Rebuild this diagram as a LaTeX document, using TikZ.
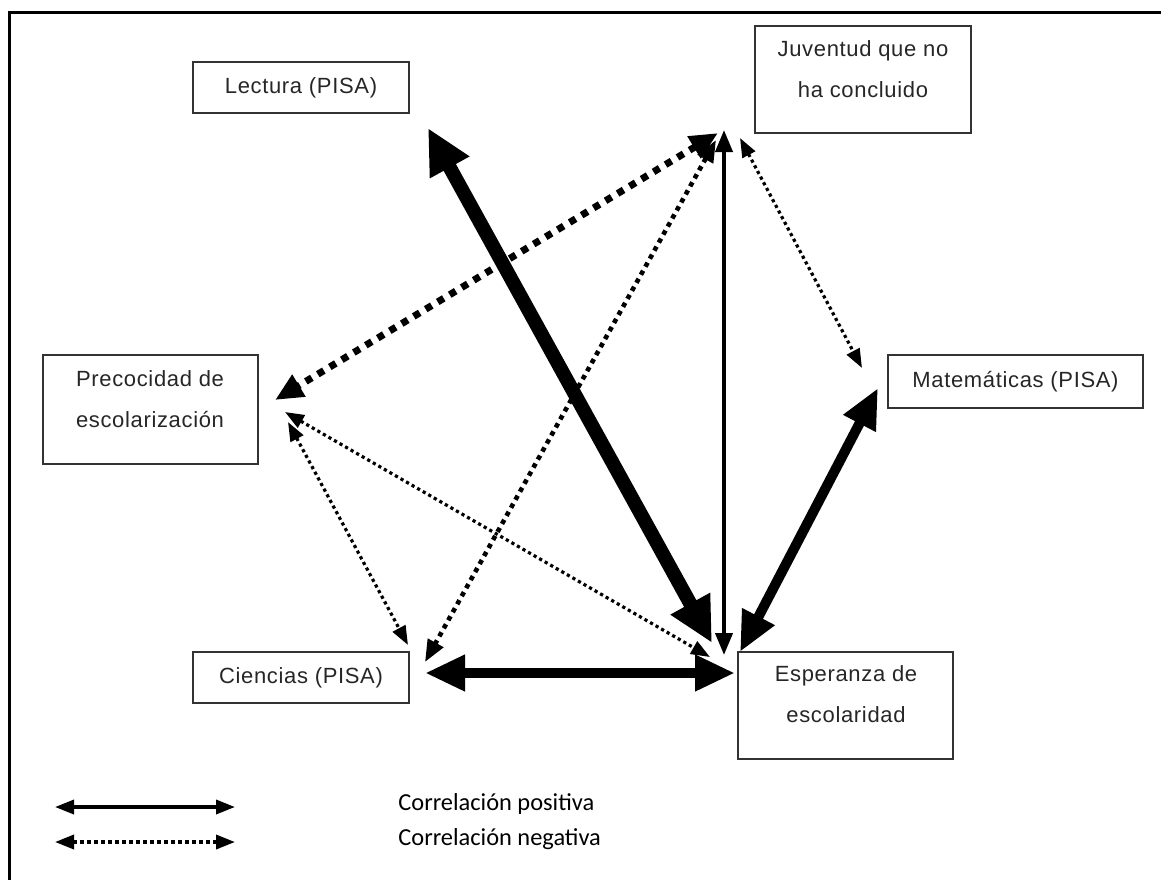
\documentclass[tikz,border=0pt]{standalone}
\usepackage{fontspec}
\setmainfont{Liberation Sans}
\newfontfamily\legendfont{Carlito}
\usetikzlibrary{arrows.meta}
\begin{document}
\begin{tikzpicture}[x=0.5pt,y=-0.5pt,
  box/.style={draw=black!80, line width=0.8pt, inner sep=0pt, outer sep=0pt},
  lbl/.style={font=\fontsize{11}{20.5}\selectfont\addfontfeatures{LetterSpace=3}, align=center, inner sep=0pt, text=black!85},
  legtxt/.style={font=\legendfont\fontsize{12.2}{17.5}\selectfont, anchor=west, inner sep=0pt},
  headXL/.style={arrows={Triangle[length=22.5pt,width=21pt]-Triangle[length=22.5pt,width=21pt]}},
  headL/.style={arrows={Triangle[length=20pt,width=17pt]-Triangle[length=20pt,width=17pt]}},
  headM/.style={arrows={Triangle[length=14pt,width=12pt]-Triangle[length=14pt,width=12pt]}},
  headS/.style={arrows={Triangle[length=11pt,width=8.5pt]-Triangle[length=11pt,width=8.5pt]}},
  headXS/.style={arrows={Triangle[length=9.5pt,width=7pt]-Triangle[length=9.5pt,width=7pt]}},
  solidXL/.style={headXL, line width=7pt},
  solidL/.style={headL, line width=5pt},
  solidS/.style={headS, line width=2pt},
  dashM/.style={headM, line width=3.5pt, dash pattern=on 3.5pt off 3.5pt},
  dotM/.style={headS, line width=2.3pt, dash pattern=on 2.3pt off 2.3pt},
  dotS/.style={headXS, line width=1.6pt, dash pattern=on 1.6pt off 1.6pt},
  legsolid/.style={headXS, line width=1.75pt},
  legdot/.style={headXS, line width=1.75pt, dash pattern=on 1.75pt off 1.75pt}
]
\useasboundingbox (0,0) rectangle (1161,880);
\draw[line width=1.5pt] (9,880) -- (9,12) -- (1161,12);

% boxes
\node[box, minimum width=108pt, minimum height=25.5pt] (lect) at (301,87.5) {};
\node[box, minimum width=108pt, minimum height=53.5pt] (juv) at (863,79.5) {};
\node[box, minimum width=107.5pt, minimum height=54.5pt] (prec) at (150.5,409.5) {};
\node[box, minimum width=127.5pt, minimum height=26.5pt] (mat) at (1015.5,381.5) {};
\node[box, minimum width=108pt, minimum height=25.5pt] (cien) at (301,677.5) {};
\node[box, minimum width=107.5pt, minimum height=53.5pt] (esp) at (845.5,705.5) {};

% texts
\node[lbl] (tlect) at (lect.center) {Lectura (PISA)};
\node[lbl] (tjuv) at (863,69.5) {Juventud que no\\ha concluido};
\node[lbl] (tprec) at (150,399) {Precocidad de\\escolarización};
\node[lbl] (tmat) at (mat.center) {Matemáticas (PISA)};
\node[lbl] (tcien) at (cien.center) {Ciencias (PISA)};
\node[lbl] (tesp) at (846,694.5) {Esperanza de\\escolaridad};

% connector ends
\coordinate (lectE) at (428,128);
\coordinate (espLect) at (712,643);
\coordinate (juvV) at (724,130);
\coordinate (espV) at (724,655);
\coordinate (matE) at (878,388);
\coordinate (espMat) at (740,652);
\coordinate (cienE) at (425,673);
\coordinate (espCien) at (735,673);
\coordinate (juvPrec) at (718,133);
\coordinate (precJuv) at (275,400);
\coordinate (juvCien) at (716,140);
\coordinate (cienJuv) at (425,662);
\coordinate (juvMat) at (740,138);
\coordinate (matJuv) at (862,368);
\coordinate (precEsp) at (285,412);
\coordinate (espPrec) at (710,657);
\coordinate (precCien) at (288,422);
\coordinate (cienPrec) at (408,645);

% connectors
\draw[solidXL] (lectE) -- (espLect);
\draw[solidS] (juvV) -- (espV);
\draw[solidL] (matE) -- (espMat);
\draw[solidL] (cienE) -- (espCien);
\draw[dashM] (juvPrec) -- (precJuv);
\draw[dotM] (juvCien) -- (cienJuv);
\draw[dotS] (juvMat) -- (matJuv);
\draw[dotS] (precEsp) -- (espPrec);
\draw[dotS] (precCien) -- (cienPrec);

% legend
\coordinate (l1a) at (55,807);
\coordinate (l1b) at (235,807);
\coordinate (l2a) at (55,842);
\coordinate (l2b) at (235,842);
\draw[legsolid] (l1a) -- (l1b);
\draw[legdot] (l2a) -- (l2b);
\node[legtxt] (pos) at (398,804) {Correlación positiva};
\node[legtxt] (neg) at (398,839) {Correlación negativa};
\end{tikzpicture}
\end{document}
